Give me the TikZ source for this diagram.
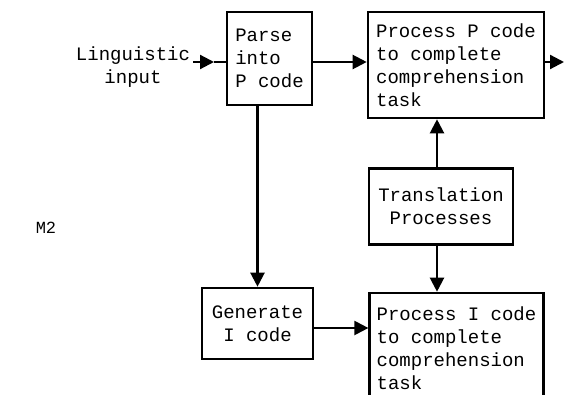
\documentclass[tikz,border=0pt]{standalone}
\usepackage{fontspec}
\setmonofont{Liberation Mono}
\usetikzlibrary{arrows.meta}
\begin{document}
\begin{tikzpicture}[x=1pt,y=-1pt,
  every node/.style={font=\ttfamily\fontsize{19}{23}\selectfont},
  box/.style={draw,line width=2.6pt,rectangle,inner xsep=7pt,inner ysep=0pt},
  conn/.style={line width=2.2pt},
  arr/.style={conn,-{Triangle[length=14pt,width=14pt]}}]
\useasboundingbox (0,0) rectangle (578,395);
\node[box,align=left,minimum width=85pt,minimum height=93pt] (parse) at (269.5,58.5) {Parse\\into\\P code};
\node[box,align=left,minimum width=176pt,minimum height=106pt] (pp) at (456,65) {Process P code\\to complete\\comprehension\\task};
\node[box,align=center,minimum width=144pt,minimum height=76pt] (trans) at (441,206.5) {Translation\\Processes};
\node[box,align=center,minimum width=111pt,minimum height=71pt] (gen) at (257.5,323.5) {Generate\\I code};
\node[box,align=left,minimum width=173pt,minimum height=110pt] (pi) at (456.5,348) {Process I code\\to complete\\comprehension\\task};
\node[align=center] (ling) at (133,67.5) {Linguistic\\input};
\node[font=\ttfamily\fontsize{17}{20}\selectfont] (m2) at (46,228) {M2};
\coordinate (lin0) at (193,62);
\coordinate (tip) at (214,62);
\coordinate (out) at (564,62);
\coordinate (vx) at (437,0);
\coordinate (hy) at (0,328);
\draw[arr] (lin0) -- (tip);
\draw[conn] (tip) -- (parse.west |- tip);
\draw[arr] (parse.east |- tip) -- (pp.west |- tip);
\draw[arr] (pp.east |- tip) -- (out);
\draw[arr] (parse.south -| gen.north) -- (gen.north);
\draw[arr] (trans.north -| vx) -- (pp.south -| vx);
\draw[arr] (trans.south -| vx) -- (pi.north -| vx);
\draw[arr] (gen.east |- hy) -- (pi.west |- hy);
\end{tikzpicture}
\end{document}
